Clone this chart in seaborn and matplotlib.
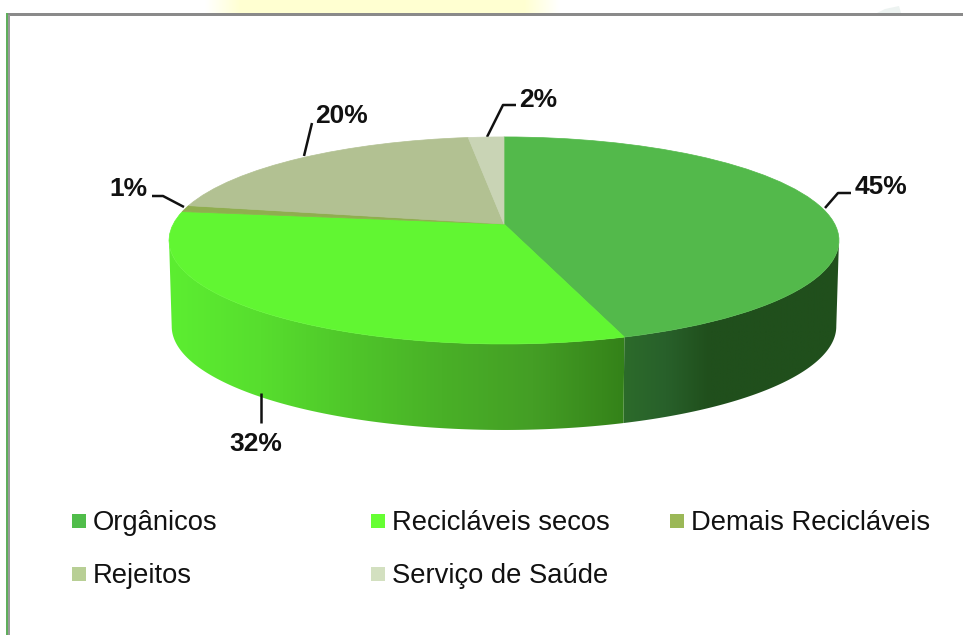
import numpy as np
import matplotlib
matplotlib.use('Agg')
import matplotlib.pyplot as plt
from matplotlib.path import Path
from matplotlib.patches import Rectangle, Polygon
from matplotlib.transforms import Transform
import seaborn as sns

categories = ['Orgânicos', 'Recicláveis secos', 'Demais Recicláveis', 'Rejeitos', 'Serviço de Saúde']
values = [45, 32, 1, 20, 2]
top_colors = ['#53B94B', '#61F632', '#8FAE4F', '#B2C192', '#C9D4B5']
legend_colors = ['#50BD4A', '#66FF33', '#9BB857', '#B8CF95', '#D3E0C0']
wall_reciclaveis = ['#5CEE31', '#57DE2E', '#4FC62A', '#49B027', '#449E25', '#348219']
wall_organicos = ['#2C6B2B', '#28602A', '#204F1C', '#204F1C', '#204F1C', '#204F1C']

# pie geometry in picture pixels, with a bit of perspective
CX, CY = 504, 224
SX, SY, K = 330.7, 100.9, 0.159
DEPTH = 86


def project(u, v, dy=0, shrink=1.0):
    x = CX + shrink * SX * u / (1 + K * v)
    y = CY - SY * v / (1 + K * v) + dy
    return x, y


class Perspective(Transform):
    input_dims = 2
    output_dims = 2

    def transform_non_affine(self, values):
        pts = np.asarray(values)
        x, y = project(pts[:, 0], pts[:, 1])
        return np.column_stack([x, y])


def rim(a0, a1, dy=0, shrink=1.0):
    theta = np.radians(np.linspace(a0, a1, 200))
    return project(np.sin(theta), np.cos(theta), dy, shrink)


def draw_wall(ax, a0, a1, stops):
    x_top, y_top = rim(a0, a1)
    x_bot, y_bot = rim(a1, a0, DEPTH, 0.992)
    outline = np.column_stack([np.r_[x_top, x_bot], np.r_[y_top, y_bot]])
    cmap = sns.blend_palette(stops, n_colors=256, as_cmap=True)
    grad = np.linspace(0, 1, 256).reshape(1, -1)
    x0, x1 = outline[:, 0].min(), outline[:, 0].max()
    y0, y1 = outline[:, 1].min(), outline[:, 1].max()
    im = ax.imshow(grad, cmap=cmap, extent=(x0, x1, y1, y0), aspect='auto', zorder=1)
    im.set_clip_path(Path(np.vstack([outline, outline[0]]), closed=True), ax.transData)


sns.set_theme(style='white')
plt.rcParams['font.family'] = ['Liberation Sans', 'DejaVu Sans']

fig = plt.figure(figsize=(9.63, 6.35), dpi=100)
fig.patch.set_facecolor('white')
ax = fig.add_axes([0, 0, 1, 1])

wedges, _ = ax.pie(values, colors=top_colors, startangle=90, counterclock=False)
for w, c in zip(wedges, top_colors):
    w.set_transform(Perspective() + ax.transData)
    w.set_edgecolor(c)
    w.set_linewidth(0.5)
    w.set_zorder(3)

# side walls: the visible lower part of the disc
split = values[0] / sum(values) * 360
right_end = np.degrees(np.arccos(-K))
left_end = 360 - right_end
draw_wall(ax, right_end, split, wall_organicos)
draw_wall(ax, split, left_end, wall_reciclaveis)

# leader lines and percent labels
leaders = [
    ([825, 838, 851], [208, 193, 193]),
    ([261, 261], [393, 423]),
    ([184, 163, 152], [207, 196, 196]),
    ([304, 312], [156, 123]),
    ([487, 503, 516], [137, 105, 105]),
]
label_pos = [(881, 187), (256, 444), (128, 189), (342, 116), (538, 100)]
for (lx, ly), (tx, ty), v in zip(leaders, label_pos, values):
    ax.plot(lx, ly, color='#111111', lw=1.8, zorder=2, solid_capstyle='butt')
    ax.text(tx, ty, f'{v}%', fontsize=19, fontweight='bold', color='#111111',
            ha='center', va='center', zorder=5)

# legend
legend_x = [72, 371, 670, 72, 371]
legend_y = [521, 521, 521, 574, 574]
for name, c, x, y in zip(categories, legend_colors, legend_x, legend_y):
    ax.add_patch(Rectangle((x, y - 7), 14, 14, facecolor=c, edgecolor='none', zorder=4))
    ax.text(x + 21, y + 2, name, fontsize=19.7, color='#111111', ha='left', va='center', zorder=5)

# slide frame and the bits of slide background above it
band = np.ones((1, 355, 3))
band[0, :, 2] = np.clip(0.82 + 0.18 * np.maximum(0, np.abs(np.linspace(-1, 1, 355)) - 0.8) / 0.2, 0, 1)
ax.imshow(band, extent=(205, 560, 13, 0), aspect='auto', zorder=0)
ax.add_patch(Polygon([(877, 13), (885, 9), (899, 6), (901, 13)], facecolor='#EDF3F1', edgecolor='none', zorder=0))
ax.add_patch(Rectangle((8, 13), 955, 2.6, facecolor='#8A8A8A', edgecolor='none', zorder=4))
ax.add_patch(Rectangle((6, 13), 2.4, 622, facecolor='#5FAE5C', edgecolor='none', zorder=4))
ax.add_patch(Rectangle((8.4, 15), 1.6, 620, facecolor='#9A9A9A', edgecolor='none', zorder=4))

ax.set_aspect('auto')
ax.set_xlim(0, 963)
ax.set_ylim(635, 0)
ax.axis('off')

fig.savefig('out.png', dpi=100, facecolor='white')
